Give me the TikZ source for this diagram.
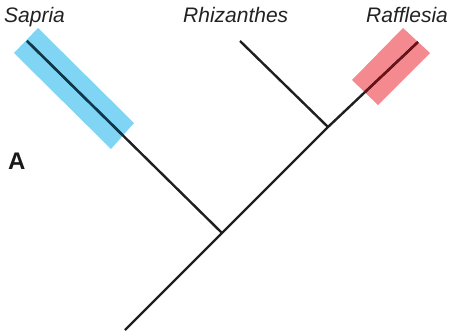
\documentclass[tikz,border=0pt]{standalone}
\usepackage{fontspec}
\setmainfont{Liberation Sans}
\definecolor{saprblue}{HTML}{80D4F4}
\definecolor{saprdark}{HTML}{0C3A4C}
\definecolor{rafred}{HTML}{F48A90}
\definecolor{rafdark}{HTML}{6A1218}
\definecolor{labelgray}{HTML}{222222}
\tikzset{
  branch/.style={line width=2.4pt, line cap=butt, black!88},
  taxon/.style={font=\fontsize{21}{23}\selectfont\itshape, text=labelgray, anchor=base west, inner sep=0pt},
  panel/.style={font=\fontsize{24}{26}\selectfont\bfseries, text=black!90, anchor=base west, inner sep=0pt}
}
\begin{document}
\begin{tikzpicture}[x=1pt,y=-1pt]
  \useasboundingbox (0,0) rectangle (450,332);

  % tree nodes
  \coordinate (root) at (125,330);
  \coordinate (n1) at (222,233);
  \coordinate (n2) at (328,127);
  \coordinate (sapria) at (27,41);
  \coordinate (rhiz) at (240,41);
  \coordinate (raff) at (418,42);

  % highlight bands
  \fill[saprblue] (38,28) -- (14,53) -- (111,149) -- (134,123) -- cycle;
  \fill[rafred] (403,28) -- (430,53) -- (378,105) -- (352,80) -- cycle;

  % branches
  \draw[branch] (root) -- (n1) -- (n2) -- (raff);
  \draw[branch] (sapria) -- (n1);
  \draw[branch] (rhiz) -- (n2);

  % branch segments inside the bands
  \begin{scope}
    \clip (38,28) -- (14,53) -- (111,149) -- (134,123) -- cycle;
    \draw[branch, saprdark] (sapria) -- (n1);
  \end{scope}
  \begin{scope}
    \clip (403,28) -- (430,53) -- (378,105) -- (352,80) -- cycle;
    \draw[branch, rafdark] (n2) -- (raff);
  \end{scope}

  % labels
  \node[taxon] (lsap) at (4,23) {Sapria};
  \node[taxon] (lrhiz) at (183,23) {Rhizanthes};
  \node[taxon] (lraf) at (366,23) {Rafflesia};
  \node[panel] (lA) at (8,169) {A};
\end{tikzpicture}
\end{document}
